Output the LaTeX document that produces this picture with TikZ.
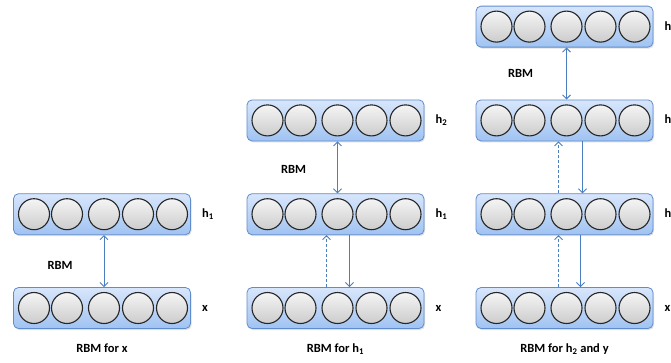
\documentclass[tikz,border=0pt]{standalone}
\usepackage{fontspec}
\setmainfont{Carlito}
\usepackage{xcolor}
\usepackage{tikz}
\usetikzlibrary{positioning,arrows.meta,calc,shadows}

\definecolor{layerline}{RGB}{95,140,205}
\definecolor{layertop}{RGB}{216,230,251}
\definecolor{layerbot}{RGB}{160,195,242}
\definecolor{arrowblue}{RGB}{74,126,190}

\begin{document}
\begin{tikzpicture}[
    x=1pt,y=-1pt,
    node distance=52pt and 10pt,
    layer/.style={draw=layerline,line width=0.8pt,rounded corners=5pt,minimum width=177pt,minimum height=41pt,
        top color=layertop,bottom color=layerbot,
        drop shadow={shadow xshift=1pt,shadow yshift=-1.5pt,opacity=0.25}},
    unit/.style={circle,draw=black!85,line width=1.1pt,minimum size=31pt,inner sep=0pt,top color=gray!8,bottom color=gray!40},
    lab/.style={font=\fontsize{12.5}{15}\selectfont\bfseries,inner sep=1pt},
    tip/.style={Straight Barb[length=4pt,width=8pt]},
    arr/.style={draw=arrowblue,line width=0.9pt},
    biarr/.style={arr,{Straight Barb[length=4pt,width=8pt]}-{Straight Barb[length=4pt,width=8pt]}},
    downarr/.style={arr,-{Straight Barb[length=4pt,width=8pt]}},
    uparr/.style={arr,-{Straight Barb[length=4pt,width=8pt]},dash pattern=on 3pt off 2pt}
]
\useasboundingbox (0,0) rectangle (671,362);

% column 1: RBM for x
\node[layer] (c1x) at (102,308) {};
\node[layer,above=of c1x] (c1h1) {};
% column 2: RBM for h1
\node[layer] (c2x) at (335.5,308) {};
\node[layer,above=of c2x] (c2h1) {};
\node[layer,above=of c2h1] (c2h2) {};
% column 3: RBM for h2 and y
\node[layer] (c3x) at (564.5,308) {};
\node[layer,above=of c3x] (c3h1) {};
\node[layer,above=of c3h1] (c3h2) {};
\node[layer,above=of c3h2] (c3h3) {};

\foreach \lay in {c1x,c1h1,c2x,c2h1,c2h2,c3x,c3h1,c3h2,c3h3}
  \foreach \i/\dx in {1/-68,2/-35,3/2,4/36,5/70}
    \node[unit] (\lay-\i) at ([xshift=\dx pt]\lay.center) {};

% layer labels
\node[lab,right=of c1x] (l1x) {x};
\node[lab,right=of c1h1] (l1h1) {h\textsubscript{1}};
\node[lab,right=of c2x] (l2x) {x};
\node[lab,right=of c2h1] (l2h1) {h\textsubscript{1}};
\node[lab,right=of c2h2] (l2h2) {h\textsubscript{2}};
\node[lab,right=of c3x] (l3x) {x};
\node[lab,right=of c3h1] (l3h1) {h\textsubscript{1}};
\node[lab,right=of c3h2] (l3h2) {h\textsubscript{2}};
\node[lab,right=of c3h3] (l3h3) {h\textsubscript{3}};

% RBM labels
\node[lab] (rbm1) at ($(c1x.north)!0.5!(c1h1.south)+(-42,4)$) {RBM};
\node[lab] (rbm2) at ($(c2h1.north)!0.5!(c2h2.south)+(-42,2)$) {RBM};
\node[lab] (rbm3) at ($(c3h2.north)!0.5!(c3h3.south)+(-44,0)$) {RBM};

% connections
\draw[biarr] ([xshift=2pt]c1x.north) -- ([xshift=2pt]c1h1.south);
\draw[biarr] ([xshift=2pt]c2h1.north) -- ([xshift=2pt]c2h2.south);
\draw[uparr] ([xshift=-9pt]c2x.north) -- ([xshift=-9pt]c2h1.south);
\draw[downarr] ([xshift=14pt]c2h1.south) -- ([xshift=14pt]c2x.north);
\draw[biarr] ([xshift=2pt]c3h2.north) -- ([xshift=2pt]c3h3.south);
\draw[uparr] ([xshift=-6pt]c3h1.north) -- ([xshift=-6pt]c3h2.south);
\draw[downarr] ([xshift=18pt]c3h2.south) -- ([xshift=18pt]c3h1.north);
\draw[uparr] ([xshift=-6pt]c3x.north) -- ([xshift=-6pt]c3h1.south);
\draw[downarr] ([xshift=16pt]c3h1.south) -- ([xshift=16pt]c3x.north);

% captions
\node[lab,below=14pt of c1x] (cap1) {RBM for x};
\node[lab,below=14pt of c2x] (cap2) {RBM for h\textsubscript{1}};
\node[lab,below=14pt of c3x] (cap3) {RBM for h\textsubscript{2} and y};
\end{tikzpicture}
\end{document}
